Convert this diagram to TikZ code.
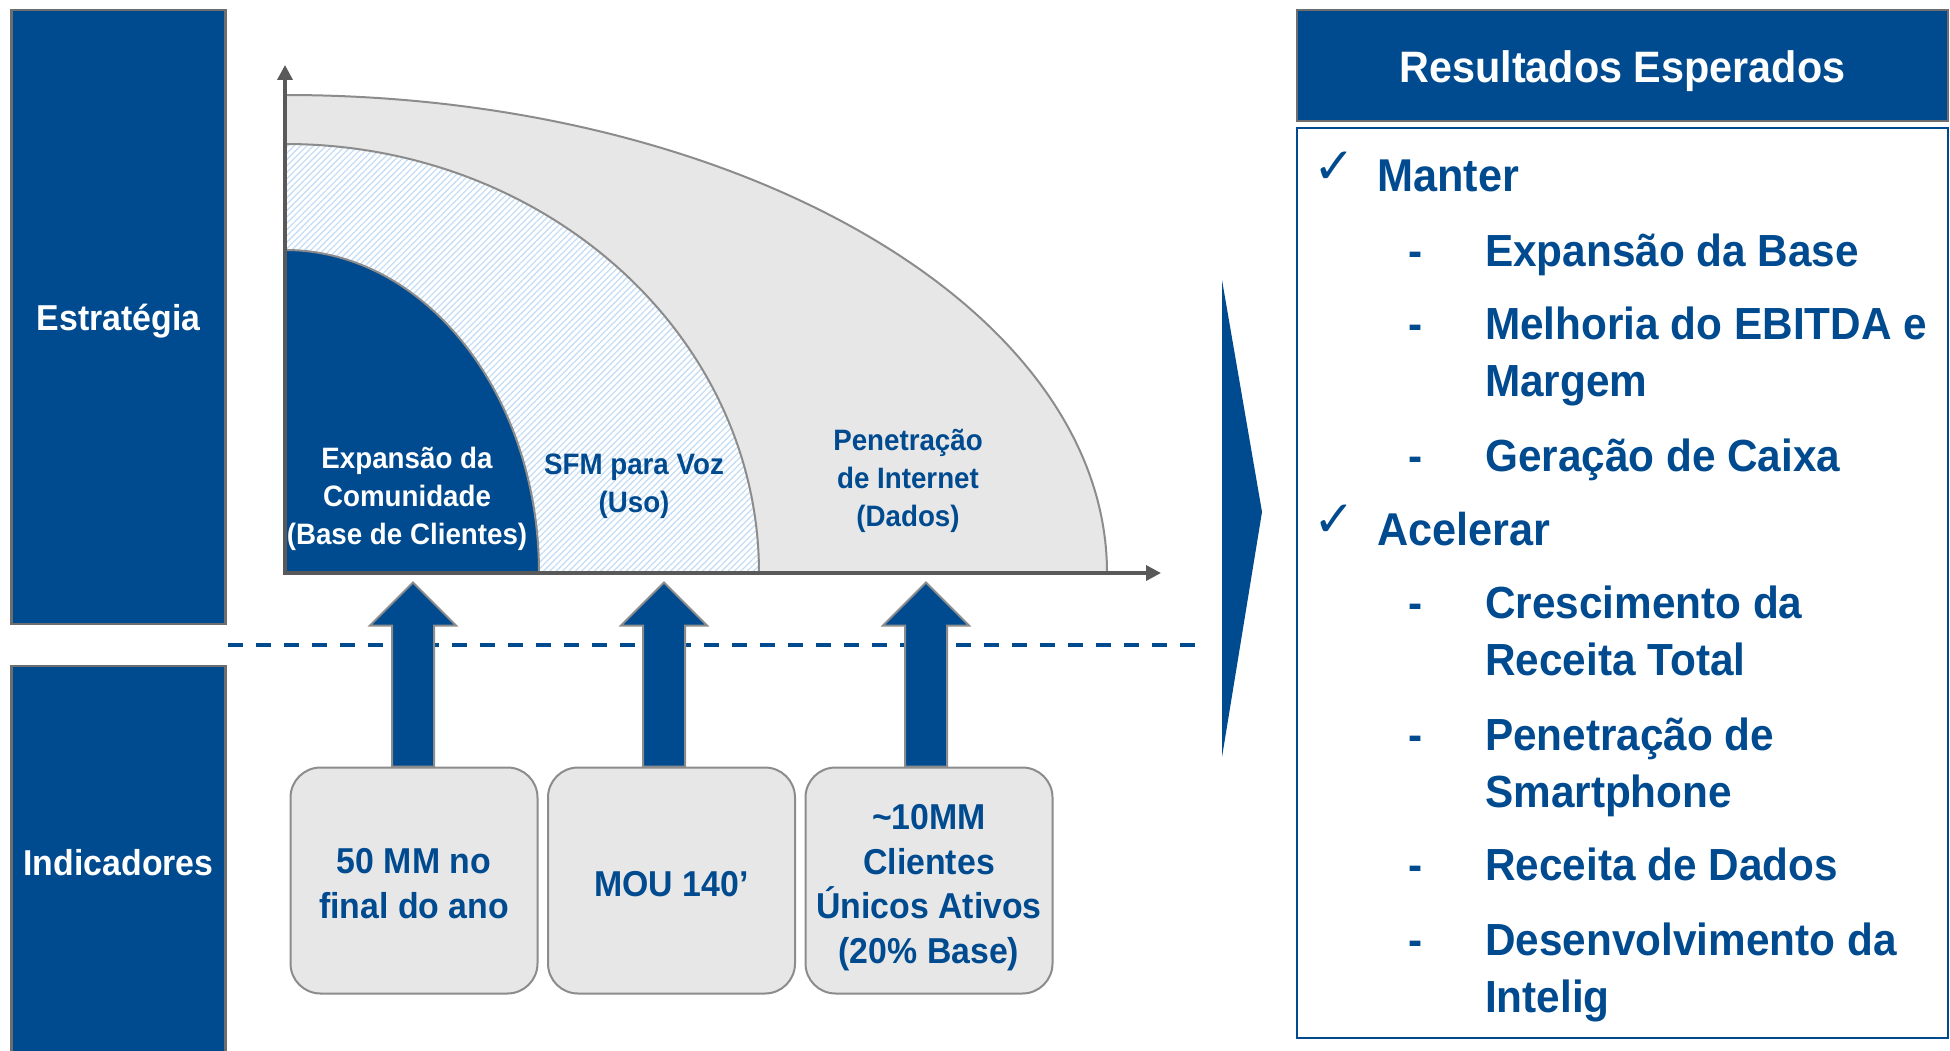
\documentclass[tikz,border=0pt]{standalone}
\usepackage{fontspec}
\setmainfont{Liberation Sans}[FakeStretch=0.94]
\newfontfamily\symfont{DejaVu Sans}
\usetikzlibrary{arrows.meta,patterns.meta,calc}

\definecolor{navy}{RGB}{0,74,143}
\definecolor{panelgray}{RGB}{231,231,231}
\definecolor{edgegray}{RGB}{140,140,140}
\definecolor{axisgray}{RGB}{89,89,89}
\definecolor{framegray}{RGB}{110,110,110}
\definecolor{hatchblue}{RGB}{198,222,245}

\newcommand\setsize[2]{\fontsize{#1pt}{#2pt}\selectfont}

\tikzset{
  sidebox/.style={draw=framegray, line width=2.5pt, fill=navy, text=white,
    font=\setsize{36}{44}\bfseries, inner sep=0pt, minimum width=214pt, text depth=0pt},
  kpibox/.style={draw=edgegray, line width=2pt, fill=panelgray, rounded corners=30pt,
    minimum width=247pt, minimum height=226pt, inner sep=0pt},
  kpitext/.style={align=center, inner sep=0pt, text=navy, font=\setsize{36}{44.5}\bfseries},
  blockarrow/.style={fill=navy, draw=edgegray, line width=2pt, line join=miter},
  chartlabel/.style={align=center, font=\setsize{29.5}{38.2}\bfseries, inner sep=0pt},
  axisline/.style={draw=axisgray, line width=3.5pt,
    {Triangle[length=15pt,width=15pt]}-{Triangle[length=15pt,width=15pt]}},
  arcedge/.style={draw=edgegray, line width=2pt},
  divider/.style={draw=navy, line width=3.3pt, dash pattern=on 15pt off 13pt},
  itemtext/.style={anchor=base west, text=navy, font=\setsize{45}{57}\bfseries, inner sep=0pt},
  headtext/.style={anchor=base west, text=navy, font=\setsize{46}{57}\bfseries, inner sep=0pt},
  dashmark/.style={anchor=base, text=navy, font=\setsize{45}{57}\bfseries, inner sep=0pt},
  tickmark/.style={text=navy, font=\symfont\setsize{50}{52}, inner sep=0pt},
}

\begin{document}
\begin{tikzpicture}[x=1pt,y=-1pt]
\useasboundingbox (0,0) rectangle (1950,1051);

% side captions
\node[sidebox, minimum height=614pt] (estr) at (118.5,317) {Estratégia};
\node[sidebox, minimum height=392pt] (indic) at (118.5,862) {Indicadores};

% nested strategy areas
\coordinate (O) at (285,573);
\fill[panelgray] (O) -- (285,95) arc[start angle=-90,end angle=0,x radius=822,y radius=478] -- cycle;
\draw[arcedge] (285,95) arc[start angle=-90,end angle=0,x radius=822,y radius=478];

\fill[white] (O) -- (285,144) arc[start angle=-90,end angle=0,x radius=474,y radius=429] -- cycle;
\fill[pattern={Lines[angle=45,distance=4.5pt,line width=1.3pt]}, pattern color=hatchblue]
  (O) -- (285,144) arc[start angle=-90,end angle=0,x radius=474,y radius=429] -- cycle;
\draw[arcedge] (285,144) arc[start angle=-90,end angle=0,x radius=474,y radius=429];

\fill[navy] (O) -- (285,250) arc[start angle=-90,end angle=0,x radius=254,y radius=323] -- cycle;
\draw[arcedge] (285,250) arc[start angle=-90,end angle=0,x radius=254,y radius=323];

% axes
\coordinate (ytop) at (285,65);
\coordinate (xend) at (1161,573);
\draw[axisline] (ytop) -- (O) -- (xend);

% area labels
\node[chartlabel, text=white] (lblbase) at (407,499) {Expansão da\\Comunidade\\(Base de Clientes)};
\node[chartlabel, text=navy] (lblvoz) at (634,486) {SFM para Voz\\(Uso)};
\node[chartlabel, text=navy] (lbldata) at (908,481) {Penetração\\de Internet\\(Dados)};

% divider between strategy and indicators
\coordinate (divL) at (228,645);
\coordinate (divR) at (1196,645);
\draw[divider] (divL) -- (divR);

% indicator boxes
\node[kpibox] (k1) at (414,880.5) {};
\node[kpibox] (k2) at (671.5,880.5) {};
\node[kpibox] (k3) at (929,880.5) {};
\node[kpitext] (k1t) at (414,883.5) {50 MM no\\final do ano};
\node[kpitext] (k2t) at (671.5,884.5) {MOU 140’};
\node[kpitext] (k3t) at (929,887.5) {\textasciitilde10MM\\Clientes\\Únicos Ativos\\(20\% Base)};

% block arrows from the indicators up to the areas
\draw[blockarrow] ([xshift=-22pt]k1.north) -- ++(0,-141) -- ++(-22,0) -- ++(43,-43)
  -- ++(43,43) -- ++(-22,0) -- ++(0,141) -- cycle;
\draw[blockarrow] ([xshift=-28.5pt]k2.north) -- ++(0,-141) -- ++(-22,0) -- ++(43,-43)
  -- ++(43,43) -- ++(-22,0) -- ++(0,141) -- cycle;
\draw[blockarrow] ([xshift=-24pt]k3.north) -- ++(0,-141) -- ++(-22,0) -- ++(43,-43)
  -- ++(43,43) -- ++(-22,0) -- ++(0,141) -- cycle;

% chevron pointing to the results
\coordinate (chevA) at (1222,280);
\coordinate (chevB) at (1262,512);
\coordinate (chevC) at (1222,757);
\fill[navy] (chevA) -- (chevB) -- (chevC) -- cycle;

% results panel
\node[draw=framegray, line width=2.5pt, fill=navy, text=white, minimum width=651pt,
  minimum height=111pt, inner sep=0pt, text depth=0pt, font=\setsize{44}{50}\bfseries]
  (hdr) at (1622.5,65.5) {\raisebox{-3pt}{Resultados Esperados}};
\node[draw=navy, line width=2.5pt, fill=white, minimum width=651pt, minimum height=910pt,
  inner sep=0pt] (panel) at (1622.5,583) {};

\node[tickmark] (t1) at (1334,168) {✓};
\node[headtext] (manter) at (1377,192) {Manter};
\node[dashmark] (m1) at (1416,266) {-};
\node[itemtext] (i1) at (1485,266) {Expansão da Base};
\node[dashmark] (m2) at (1416,339) {-};
\node[itemtext] (i2) at (1485,339) {Melhoria do EBITDA e};
\node[itemtext] (i2b) at (1485,396) {Margem};
\node[dashmark] (m3) at (1416,471) {-};
\node[itemtext] (i3) at (1485,471) {Geração de Caixa};

\node[tickmark] (t2) at (1334,521) {✓};
\node[headtext] (acel) at (1377,545) {Acelerar};
\node[dashmark] (m4) at (1416,618) {-};
\node[itemtext] (i4) at (1485,618) {Crescimento da};
\node[itemtext] (i4b) at (1485,675) {Receita Total};
\node[dashmark] (m5) at (1416,750) {-};
\node[itemtext] (i5) at (1485,750) {Penetração de};
\node[itemtext] (i5b) at (1485,807) {Smartphone};
\node[dashmark] (m6) at (1416,880) {-};
\node[itemtext] (i6) at (1485,880) {Receita de Dados};
\node[dashmark] (m7) at (1416,955) {-};
\node[itemtext] (i7) at (1485,955) {Desenvolvimento da};
\node[itemtext] (i7b) at (1485,1012) {Intelig};
\end{tikzpicture}
\end{document}
